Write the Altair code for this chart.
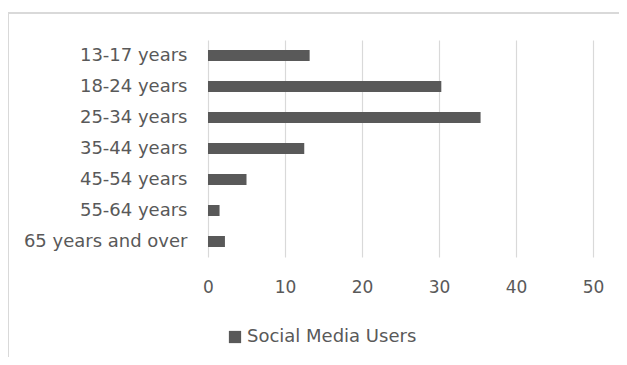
import altair as alt
import pandas as pd

categories = ["13-17 years", "18-24 years", "25-34 years", "35-44 years",
              "45-54 years", "55-64 years", "65 years and over"]
values = [13.2, 30.3, 35.4, 12.5, 5.0, 1.5, 2.2]
series = "Social Media Users"
x_ticks = [0, 10, 20, 30, 40, 50]

df = pd.DataFrame({"category": categories, "value": values, "series": [series] * len(categories)})

TEXT = "#595959"
GRID = "#d9d9d9"
FONT = "DejaVu Sans"

bars = alt.Chart(df).mark_bar(size=11).encode(
    y=alt.Y("category:N", sort=categories, title=None,
            scale=alt.Scale(paddingInner=0.645, paddingOuter=0.3225),
            axis=alt.Axis(domain=False, ticks=False, labelPadding=21, labelFontSize=18,
                          labelColor=TEXT, labelFont=FONT, grid=False)),
    x=alt.X("value:Q", title=None,
            scale=alt.Scale(domain=[0, 50], nice=False),
            axis=alt.Axis(values=x_ticks, domain=False, ticks=False, tickSize=0, labelPadding=22,
                          labelFontSize=17, labelColor=TEXT, labelFont=FONT, labelFlush=False,
                          grid=True, gridColor=GRID, gridWidth=1.2)),
    color=alt.Color("series:N", scale=alt.Scale(range=["#595959"]),
                    legend=alt.Legend(title=None, orient="none", legendX=18, legendY=288,
                                      symbolType="square", symbolSize=150, symbolStrokeWidth=0,
                                      labelFontSize=18, labelColor=TEXT, labelFont=FONT,
                                      labelLimit=400, symbolOffset=0, padding=0, labelOffset=3)),
)

frame_left = alt.Chart(df).mark_rule(color=GRID, strokeWidth=1.5, clip=False).encode(
    x=alt.value(-200), y=alt.value(-27), y2=alt.value(420)
)
frame_top = alt.Chart(df).mark_rule(color=GRID, strokeWidth=1.5, clip=False).encode(
    x=alt.value(-200), x2=alt.value(500), y=alt.value(-27)
)

chart = alt.layer(bars, frame_left, frame_top).properties(
    width=385, height=217,
    background="white",
    autosize=alt.AutoSizeParams(type="none"),
    padding={"left": 200, "top": 32, "right": 26, "bottom": 100},
).configure_view(stroke="transparent", strokeWidth=0)

chart.save("out.html", embed_options={"renderer": "svg", "actions": False})
